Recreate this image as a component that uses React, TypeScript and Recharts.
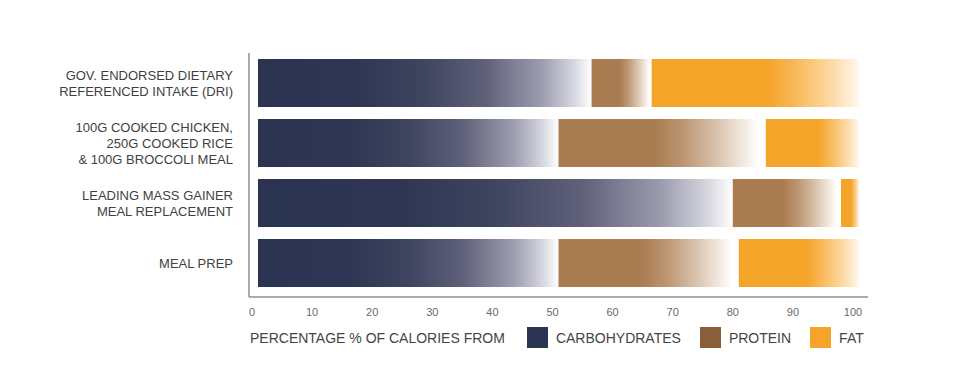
import React from "react";
import { Bar, BarChart, XAxis, YAxis } from "recharts";

const categories = [
  "GOV. ENDORSED DIETARY\nREFERENCED INTAKE (DRI)",
  "100G COOKED CHICKEN,\n250G COOKED RICE\n& 100G BROCCOLI MEAL",
  "LEADING MASS GAINER\nMEAL REPLACEMENT",
  "MEAL PREP",
];
const carbohydrates = [55.5, 50, 79, 50];
const protein = [10, 34.5, 18, 30];
const fat = [34.5, 15.5, 3, 20];
const xTicks = [0, 10, 20, 30, 40, 50, 60, 70, 80, 90, 100];

const seriesKeys = ["carbohydrates", "protein", "fat"];
const seriesNames = ["CARBOHYDRATES", "PROTEIN", "FAT"];
const legendColors = ["#2b3452", "#8b5e3a", "#f5a42a"];

const data = categories.map((name, i) => ({
  name,
  carbohydrates: carbohydrates[i],
  protein: protein[i],
  fat: fat[i],
}));

const FONT = '"Liberation Sans", Arial, Helvetica, sans-serif';

interface TickProps {
  x?: number;
  y?: number;
  payload?: { value: string };
}

function CategoryTick({ x = 0, y = 0, payload }: TickProps) {
  const lines = String(payload?.value ?? "").split("\n");
  const gap = 16;
  return (
    <text
      x={x}
      y={y}
      textAnchor="end"
      fontFamily={FONT}
      fontSize={13}
      fill="#3f3f3f"
    >
      {lines.map((line, i) => (
        <tspan
          key={i}
          x={x}
          y={y + (i - (lines.length - 1) / 2) * gap}
          dy="0.36em"
        >
          {line}
        </tspan>
      ))}
    </text>
  );
}

function Legend() {
  return (
    <div
      style={{
        position: "absolute",
        left: 250,
        top: 327,
        height: 21,
        display: "flex",
        alignItems: "center",
        fontFamily: FONT,
        fontSize: 14,
        color: "#444",
        whiteSpace: "nowrap",
      }}
    >
      <span style={{ marginRight: 22 }}>PERCENTAGE % OF CALORIES FROM</span>
      {seriesNames.map((name, i) => (
        <React.Fragment key={name}>
          <span
            style={{
              width: 21,
              height: 21,
              background: legendColors[i],
              marginRight: 8,
              display: "inline-block",
            }}
          />
          <span style={{ marginRight: 19 }}>{name}</span>
        </React.Fragment>
      ))}
    </div>
  );
}

export default function App() {
  return (
    <div
      style={{
        position: "absolute",
        left: 0,
        top: 0,
        width: 960,
        height: 386,
        background: "#fff",
      }}
    >
      <BarChart
        width={960}
        height={386}
        data={data}
        layout="vertical"
        barCategoryGap="10%"
        margin={{ top: 53, right: 92, bottom: 59, left: 0 }}
      >
        <defs>
          <linearGradient id="gradCarb" x1="0" y1="0" x2="1" y2="0">
            <stop offset="0" stopColor="#2a3350" />
            <stop offset="0.3" stopColor="#2e3653" />
            <stop offset="0.5" stopColor="#3f455f" />
            <stop offset="0.68" stopColor="#5f6079" />
            <stop offset="0.85" stopColor="#9c9caf" />
            <stop offset="0.95" stopColor="#d8d8e1" />
            <stop offset="1" stopColor="#ffffff" />
          </linearGradient>
          <linearGradient id="gradProtein" x1="0" y1="0" x2="1" y2="0">
            <stop offset="0" stopColor="#a97b50" />
            <stop offset="0.46" stopColor="#a97b50" />
            <stop offset="0.6" stopColor="#bc9672" />
            <stop offset="0.75" stopColor="#d6bfa7" />
            <stop offset="0.9" stopColor="#f4ece3" />
            <stop offset="0.96" stopColor="#ffffff" />
            <stop offset="1" stopColor="#ffffff" />
          </linearGradient>
          <linearGradient id="gradFat" x1="0" y1="0" x2="1" y2="0">
            <stop offset="0" stopColor="#f5a42a" />
            <stop offset="0.56" stopColor="#f5a42a" />
            <stop offset="0.7" stopColor="#f8ba5c" />
            <stop offset="0.86" stopColor="#fcd8a2" />
            <stop offset="1" stopColor="#fff8ee" />
          </linearGradient>
        </defs>
        <XAxis
          type="number"
          domain={[0, 100]}
          ticks={xTicks}
          padding={{ left: 9, right: 9 }}
          height={30}
          axisLine={{ stroke: "#8f8f8f", strokeWidth: 1.5 }}
          tickLine={false}
          tickSize={0}
          tickMargin={11}
          tick={{ fontSize: 11, fill: "#6a6a6a", fontFamily: FONT, dx: -6 }}
        />
        <YAxis
          type="category"
          dataKey="name"
          width={249}
          padding={{ top: 0, bottom: 4 }}
          axisLine={{ stroke: "#8f8f8f", strokeWidth: 1.5 }}
          tickLine={false}
          tickSize={0}
          tickMargin={16}
          tick={<CategoryTick />}
          interval={0}
        />
        {seriesKeys.map((key, i) => (
          <Bar
            key={key}
            dataKey={key}
            name={seriesNames[i]}
            stackId="a"
            fill={`url(#${["gradCarb", "gradProtein", "gradFat"][i]})`}
            isAnimationActive={false}
          />
        ))}
      </BarChart>
      <Legend />
    </div>
  );
}
